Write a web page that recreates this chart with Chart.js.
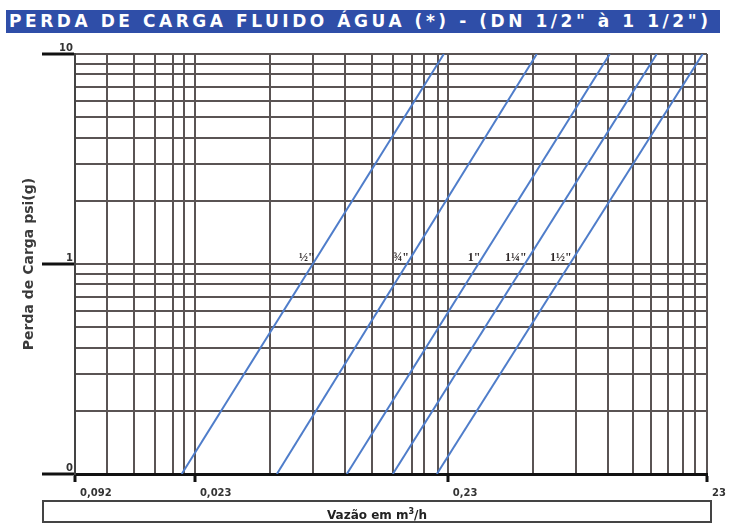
<!DOCTYPE html>
<html lang="pt">
<head>
<meta charset="utf-8">
<title>Perda de carga - fluido água</title>
<script src="https://cdn.jsdelivr.net/npm/chart.js@4.4.1/dist/chart.umd.min.js"></script>
<style>
  html, body { margin: 0; padding: 0; background: #fff; }
  #wrap { position: relative; width: 729px; height: 527px; overflow: hidden; }
  #chart-box { position: absolute; left: 0; top: 0; width: 729px; height: 527px; }
  .banner {
    position: absolute; left: 6px; top: 10px; width: 714px; height: 23px;
    background: #2f4ea8; color: #fff; box-sizing: border-box; padding-left: 3px;
    font: bold 17px "DejaVu Sans", sans-serif;
    line-height: 23px; white-space: nowrap; overflow: hidden;
  }
  .x-title {
    position: absolute; left: 42px; top: 500px; width: 670px; height: 23px;
    border: 2px solid #444; box-sizing: border-box; text-align: center;
    font: bold 12px "DejaVu Sans", sans-serif; line-height: 19px; color: #222;
  }
</style>
</head>
<body>
<div id="wrap">
  <div id="chart-box"><canvas id="perda-carga"></canvas></div>
  <div class="banner"><span id="banner-text">PERDA DE CARGA FLUIDO ÁGUA (*) -  (DN 1/2" à 1 1/2")</span></div>
  <div class="x-title">Vazão em m<sup style="font-size:8px">3</sup>/h</div>
</div>
<script>
// axis ranges (log-log)
const xMin = 0.00772;
const xMax = 2.435;
const yMin = 0.1;
const yMax = 10;

// vertical grid lines (vazão, m3/h)
const xGrid = [xMin, 0.01032, 0.0132, 0.01598, 0.01882, 0.02081, 0.023,
  0.0455, 0.0673, 0.0901, 0.1152, 0.1394, 0.1657, 0.1849, 0.21, 0.23,
  0.4987, 0.737, 0.987, 1.239, 1.46, 1.703, 1.952, 2.178, xMax];
const xLabelValues = [xMin, 0.023, 0.23, xMax];
const xLabelTexts = ['0,092', '0,023', '0,23', '23'];

// horizontal grid lines (psi)
const yGrid = [0.1, 0.2, 0.3, 0.4, 0.5, 0.6, 0.7, 0.8, 0.9,
  1, 2, 3, 4, 5, 6, 7, 8, 9, 10];
const yLabelValues = [0.1, 1, 10];
const yLabelTexts = ['0', '1', '10'];

// one curve per pipe size: flow at 0.1 psi and at 10 psi
const pipeSizes = ['½"', '¾"', '1"', '1¼"', '1½"'];
const flowAtLow = [0.0204, 0.0485, 0.0917, 0.1394, 0.2081];
const flowAtHigh = [0.2218, 0.517, 1.005, 1.541, 2.341];

const GRID_COLOR = '#5a5454';
const CURVE_COLOR = '#4f7dca';

// spread the banner title over the full bar width
(function fitBanner() {
  const span = document.getElementById('banner-text');
  const chars = span.textContent.length;
  const extra = 706 - span.getBoundingClientRect().width;
  span.style.letterSpacing = (extra / chars) + 'px';
})();

function labelIndex(values, v) {
  return values.findIndex(l => Math.abs(l - v) / l < 1e-6);
}

// size names drawn just above the 1 psi line, left of each curve
const pipeLabels = {
  id: 'pipeLabels',
  afterDatasetsDraw(chart) {
    const { ctx, scales: { x, y } } = chart;
    const yPx = y.getPixelForValue(1);
    ctx.save();
    ctx.font = 'bold 12px "Liberation Serif", serif';
    ctx.fillStyle = '#2e2828';
    ctx.textAlign = 'right';
    ctx.textBaseline = 'alphabetic';
    pipeSizes.forEach((name, i) => {
      // 1 psi is halfway between 0.1 and 10 on the log axis
      const xPx = (x.getPixelForValue(flowAtLow[i]) + x.getPixelForValue(flowAtHigh[i])) / 2;
      ctx.fillText(name, xPx + 2, yPx - 3);
    });
    ctx.restore();
  }
};

const ctx = document.getElementById('perda-carga').getContext('2d');

new Chart(ctx, {
  type: 'line',
  data: {
    datasets: pipeSizes.map((name, i) => ({
      label: name,
      data: [{ x: flowAtLow[i], y: yMin }, { x: flowAtHigh[i], y: yMax }],
      borderColor: CURVE_COLOR,
      borderWidth: 2,
      pointRadius: 0,
      fill: false,
    })),
  },
  options: {
    responsive: true,
    maintainAspectRatio: false,
    animation: false,
    layout: { padding: { top: 54, right: 22, left: 0, bottom: 0 } },
    plugins: {
      legend: { display: false },
      tooltip: { enabled: false },
    },
    scales: {
      x: {
        type: 'logarithmic',
        min: xMin,
        max: xMax,
        afterBuildTicks: scale => { scale.ticks = xGrid.map(v => ({ value: v })); },
        afterFit: scale => { scale.height = 53; scale.paddingLeft = 0; scale.paddingRight = 0; },
        grid: {
          color: GRID_COLOR,
          lineWidth: 2,
          tickLength: 8,
          tickColor: c => (c.tick && labelIndex(xLabelValues, c.tick.value) >= 0 ? '#111' : 'rgba(0,0,0,0)'),
          tickWidth: 3,
        },
        border: { color: '#111', width: 3 },
        ticks: {
          autoSkip: false,
          maxRotation: 0,
          align: 'start',
          labelOffset: 5,
          padding: 5,
          color: '#333',
          font: { family: '"DejaVu Sans", sans-serif', size: 10, weight: 'bold' },
          callback: value => {
            const i = labelIndex(xLabelValues, value);
            return i >= 0 ? xLabelTexts[i] : '';
          },
        },
      },
      y: {
        type: 'logarithmic',
        min: yMin,
        max: yMax,
        afterBuildTicks: scale => { scale.ticks = yGrid.map(v => ({ value: v })); },
        afterFit: scale => { scale.width = 75; scale.paddingTop = 0; scale.paddingBottom = 0; },
        grid: {
          color: GRID_COLOR,
          lineWidth: 2,
          tickLength: 33,
          tickColor: c => (c.tick && labelIndex(yLabelValues, c.tick.value) >= 0 ? '#111' : 'rgba(0,0,0,0)'),
          tickWidth: 3,
        },
        border: { color: '#444', width: 2 },
        title: {
          display: true,
          text: 'Perda de Carga psi(g)',
          color: '#3a3a3a',
          font: { family: '"DejaVu Sans", sans-serif', size: 14, weight: 'bold' },
          padding: { top: 21, bottom: 0 },
        },
        ticks: {
          autoSkip: false,
          padding: -31,
          color: '#333',
          font: { family: '"DejaVu Sans", sans-serif', size: 10, weight: 'bold' },
          // second empty line lifts the number above its tick mark
          callback: value => {
            const i = labelIndex(yLabelValues, value);
            return i >= 0 ? [yLabelTexts[i], ''] : '';
          },
        },
      },
    },
  },
  plugins: [pipeLabels],
});
</script>
</body>
</html>
